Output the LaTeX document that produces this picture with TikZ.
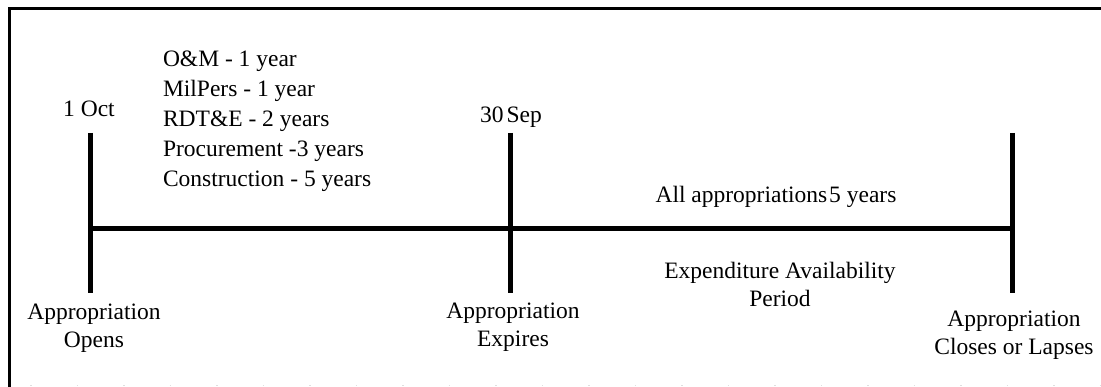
\documentclass[tikz,border=0pt]{standalone}
\usepackage{fontspec}
\setmainfont{Liberation Serif}
\begin{document}
\begin{tikzpicture}[x=1pt,y=-1pt,
  lbl/.style={inner sep=0pt,outer sep=0pt,font=\fontsize{23.5}{28}\selectfont,align=center,anchor=base},
  axis/.style={line width=5pt,black},
  frame/.style={line width=2.7pt,black},
  faint/.style={gray!25,line width=1.2pt,dash pattern=on 1.5pt off 45pt}]
\useasboundingbox (0,0) rectangle (1101,387);
% frame
\coordinate (fTL) at (9.5,8.7);
\coordinate (fTR) at (1101,8.7);
\coordinate (fBL) at (9.5,387);
\coordinate (bL) at (30,385.5);
\coordinate (bR) at (1101,385.5);
\draw[frame] (fTR) -- (fTL) -- (fBL);
\draw[faint] (bL) -- (bR);
% ticks
\coordinate (aT) at (90.5,133);  \coordinate (aB) at (90.5,293);
\coordinate (bT) at (510.5,133); \coordinate (bB) at (510.5,293);
\coordinate (cT) at (1012.7,133);\coordinate (cB) at (1012.7,293);
\coordinate (aM) at (90.5,228.5);\coordinate (cM) at (1012.7,228.5);
\draw[axis] (aT) -- (aB);
\draw[axis] (bT) -- (bB);
\draw[axis] (cT) -- (cB);
\draw[axis] (aM) -- (cM);
% labels (multi-line nodes: base = last line's baseline)
\node[lbl] (oct) at (89,117) {1 Oct};
\node[lbl] (sep) at (511,123) {30\hspace{3pt}Sep};
\node[lbl,align=left,anchor=base west,font=\fontsize{23.5}{30}\selectfont] (list) at (163,186.7)
  {O\&M - 1 year\\MilPers - 1 year\\RDT\&E - 2 years\\Procurement -3 years\\Construction - 5 years};
\node[lbl] (all) at (776,203) {All appropriations\hspace{2pt}5 years};
\node[lbl] (exp) at (780,307) {Expenditure Availability\\Period};
\node[lbl] (opens) at (94,348) {Appropriation\\Opens};
\node[lbl] (expires) at (513,347) {Appropriation\\Expires};
\node[lbl] (closes) at (1014,355) {Appropriation\\Closes or Lapses};
\end{tikzpicture}
\end{document}
